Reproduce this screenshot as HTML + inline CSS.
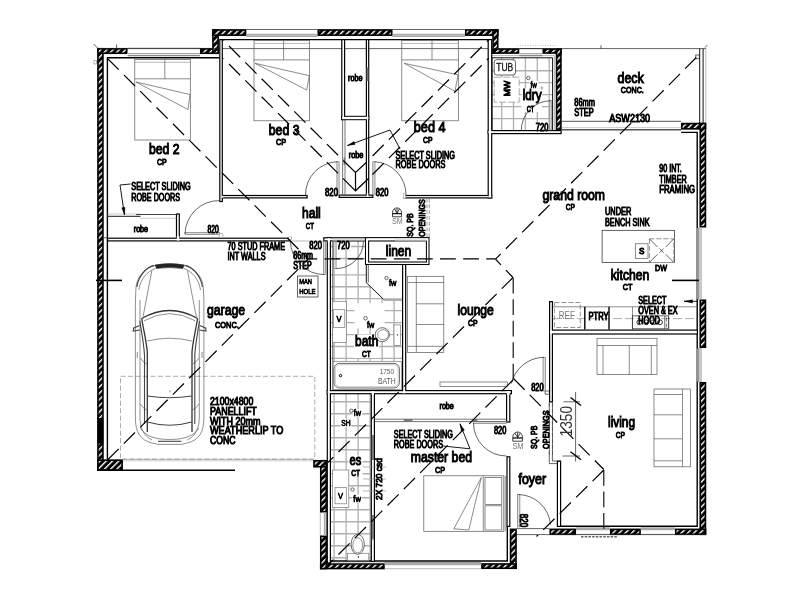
<!DOCTYPE html>
<html lang="en"><head><meta charset="utf-8"><title>Floor plan</title>
<style>
html,body{margin:0;padding:0;background:#fff}
svg{display:block;filter:grayscale(1)}
text{font-family:"Liberation Sans",sans-serif;fill:#000}
.k{stroke:#222;stroke-width:.7;fill:none}
.kw{stroke:#222;stroke-width:.7;fill:#fff}
.K{stroke:#000;stroke-width:1.4;fill:none}
.Kw{stroke:#000;stroke-width:1.05;fill:#fff}
.kf{fill:#000;stroke:#000;stroke-width:.4}
.kd{stroke:#333;stroke-width:.6;fill:none;stroke-dasharray:4 2}
.g{stroke:#5a5a5a;stroke-width:.7;fill:none}
.g2{stroke:#888;stroke-width:.6;fill:none}
.g3{stroke:#aaa;stroke-width:.6;fill:none}
.g2w{stroke:#888;stroke-width:.6;fill:#fff}
.gw{stroke:#999;stroke-width:1.6;fill:none}
.gw2{stroke:#777;stroke-width:.7;fill:#fff}
.gw3{stroke:#aaa;stroke-width:2.5;fill:none}
.gf{fill:#777;stroke:none}
.gd{stroke:#888;stroke-width:.7;fill:none;stroke-dasharray:5 2.5}
.gd3{stroke:#888;stroke-width:.7;fill:none;stroke-dasharray:9 3}
.gd4{stroke:#888;stroke-width:.9;fill:none;stroke-dasharray:5 2}
.gd4w{stroke:#888;stroke-width:.9;fill:#fff;stroke-dasharray:5 2}
.gd2{stroke:#888;stroke-width:.7;fill:#fff;stroke-dasharray:7 2}
.gdd{stroke:#777;stroke-width:.7;fill:none;stroke-dasharray:4 1.8}
.gdot{stroke:#aaa;stroke-width:.7;fill:none;stroke-dasharray:1 1.5}
.h{fill:url(#hp);stroke:#000;stroke-width:1.6}
.lg{fill:#ddd}
.wb{fill:#000}
.ww{fill:#fff}
.d{stroke:#000;stroke-width:1.2;fill:none;stroke-dasharray:15.8 7.3}
.ld{stroke:#000;stroke-width:.9;fill:none}
.dh{stroke:#000;stroke-width:1.1;fill:none;stroke-dasharray:15.8 5.7}
.ds{stroke:#000;stroke-width:1.2;fill:none}
.dl{stroke:#666;stroke-width:.6;fill:#ddd}
.dr{stroke:#333;stroke-width:.75;fill:none}
.sm{stroke:#111;stroke-width:.8;fill:none}
.sm2{stroke:#111;stroke-width:1.3;fill:none}
.sd1{stroke:#777;stroke-width:1.3;fill:none}
.sd2{stroke:#555;stroke-width:1.5;fill:none}
.k1{stroke:#111;stroke-width:1;fill:none}
.wl{stroke:#aaa;stroke-width:1.3;fill:none}
.wg1{stroke:#aaa;stroke-width:1.3;fill:none}
.wg2{stroke:#888;stroke-width:1.3;fill:none}
.smudge{stroke:#666;stroke-width:1.4;fill:none;stroke-dasharray:2.5 1.2}
.bn{stroke:#222;stroke-width:.9;fill:none}
.sl{stroke:#444;stroke-width:1.2;fill:none}
.sl2{stroke:#666;stroke-width:.9;fill:none}
.KK{stroke:#000;stroke-width:1.6;fill:none}
.tub{stroke:#555;stroke-width:.9;fill:#fff}
.K1{stroke:#000;stroke-width:1;fill:none}
.tw{stroke:#444;stroke-width:.8;fill:#fff}
.tw2{stroke:#666;stroke-width:.7;fill:none}
.gwl{stroke:#aaa;stroke-width:1.8;fill:none}
.tile{stroke:#b0b0b0;stroke-width:1.3;fill:none}
.c{stroke:#444;stroke-width:.6;fill:none}
.c2{stroke:#444;stroke-width:1.1;fill:none}
.c3{stroke:#333;stroke-width:1.3;fill:none}
.cf{fill:#222;stroke:#222;stroke-width:.5}
.tr{stroke:#000;stroke-width:1.1}
.tn{stroke:#000;stroke-width:1}
.tl{fill:#111;stroke:#111;stroke-width:.35}
.tl2{fill:#000;stroke:#000;stroke-width:.7}
.fwc{stroke:#555;stroke-width:.9;fill:#fff}
.tg{fill:#777}
.tg2{fill:#555}
.tcad{fill:#333}
</style></head>
<body>
<svg width="800" height="600" viewBox="0 0 800 600">
<defs>
<pattern id="hp" width="4.4" height="4.4" patternUnits="userSpaceOnUse" patternTransform="rotate(-45)">
<rect width="4.4" height="4.4" fill="#000"/><rect y="0" width="4.4" height="1.4" fill="#fff"/>
</pattern>
</defs>
<rect width="800" height="600" fill="#fff"/>
<path class="tile" d="M501.7 57.5V130M513.5 57.5V130M525.4 57.5V130M537.3 57.5V130M549.2 57.5V130M492 70.75H552.5M492 82.7H552.5M492 94.65H552.5M492 106.6H552.5M492 118.55H552.5"/>
<path class="tile" d="M334.1 241V361M346.1 241V361M358.1 241V361M370.1 241V361M382.1 241V361M394.1 241V361M330 246.5H402.5M330 258.5H402.5M330 274.8H402.5M330 286.75H402.5M330 298.7H402.5M330 310.65H402.5M330 322.6H402.5M330 334.55H402.5M330 346.5H402.5M330 358.45H402.5"/>
<path class="tile" d="M334.1 394V562M346.1 394V562M358.1 394V562M370.1 394V562M330.5 401.75H371M330.5 413.75H371M330.5 425.75H371M330.5 437.75H371M330.5 449.75H371M330.5 461.75H371M330.5 473.75H371M330.5 485.75H371M330.5 497.75H371M330.5 509.75H371M330.5 521.75H371M330.5 533.75H371M330.5 545.75H371M330.5 557.75H371"/>
<rect class="ww" x="521.5" y="88.5" width="20.5" height="23.5"/>
<rect class="ww" x="529.5" y="81" width="8.5" height="7.5"/>
<rect class="ww" x="534.5" y="122.5" width="14.5" height="7.5"/>
<rect class="ww" x="526" y="75.5" width="5" height="5"/>
<rect class="ww" x="354" y="334.5" width="25" height="23.5"/>
<rect class="ww" x="354.5" y="303" width="30" height="25.5"/>
<rect class="ww" x="388" y="278" width="9" height="8.5"/>
<rect class="ww" x="384" y="275.5" width="5" height="5"/>
<rect class="ww" x="348.5" y="455.5" width="14" height="21"/>
<rect class="ww" x="340.5" y="419" width="11" height="8.2"/>
<rect class="ww" x="352.5" y="409" width="9.5" height="8"/>
<rect class="ww" x="352.5" y="494.5" width="9.5" height="8.5"/>
<rect class="ww" x="350" y="487.5" width="5" height="4.5"/>
<rect class="ww" x="336" y="241.8" width="15" height="8"/>
<path class="ww" d="M366.3 263 L402.5 263 L402.5 299.5 L383.7 299.5 L366.3 282.4 Z"/>
<rect class="h" x="97.95" y="48.75" width="5" height="421.3"/>
<rect class="wb" x="97.6" y="418" width="5.7" height="25.5"/>
<rect class="h" x="97.95" y="48.75" width="28.8" height="4.5"/>
<rect class="h" x="200.75" y="48.75" width="17.4" height="4.5"/>
<rect class="h" x="212.95" y="29.95" width="5.2" height="23.3"/>
<rect class="h" x="212.95" y="29.95" width="32.6" height="5.2"/>
<rect class="h" x="318.25" y="29.95" width="73.5" height="5.2"/>
<rect class="h" x="465.75" y="29.95" width="32" height="5.2"/>
<rect class="h" x="493.05" y="29.95" width="4.7" height="23.1"/>
<rect class="h" x="493.05" y="49.05" width="25.4" height="4"/>
<rect class="h" x="543.25" y="49.05" width="17.7" height="4"/>
<rect class="h" x="556.55" y="49.05" width="4.4" height="80.2"/>
<rect class="h" x="681.75" y="123.55" width="23.7" height="5.3"/>
<rect class="h" x="700.25" y="123.55" width="5.2" height="103.2"/>
<rect class="h" x="700.25" y="300.25" width="5.2" height="47"/>
<rect class="h" x="700.25" y="382.75" width="5.2" height="151.5"/>
<rect class="h" x="550.25" y="529.35" width="25" height="4.9"/>
<rect class="h" x="610.75" y="529.35" width="29.3" height="4.9"/>
<rect class="h" x="675.75" y="529.35" width="29.8" height="4.9"/>
<rect class="h" x="510.55" y="529.35" width="5.5" height="38.9"/>
<rect class="h" x="481.95" y="563.95" width="34.1" height="4.3"/>
<rect class="h" x="320.75" y="563.95" width="63.2" height="4.6"/>
<rect class="h" x="320.75" y="460.75" width="5.5" height="51"/>
<rect class="h" x="320.75" y="536.25" width="5.5" height="32.3"/>
<rect class="h" x="313.95" y="460.75" width="12.3" height="6"/>
<rect class="h" x="97.95" y="460.15" width="24.2" height="9.9"/>
<line class="k" x1="97" y1="48.6" x2="706" y2="48.6"/>
<line class="k" x1="127.5" y1="48.3" x2="200" y2="48.3"/>
<line class="wg1" x1="127.5" y1="53.6" x2="200" y2="53.6"/>
<line class="wg2" x1="127.5" y1="55.6" x2="200" y2="55.6"/>
<line class="k" x1="246.3" y1="29.5" x2="317.5" y2="29.5"/>
<line class="wg1" x1="246.3" y1="34.3" x2="317.5" y2="34.3"/>
<line class="wg2" x1="246.3" y1="36.2" x2="317.5" y2="36.2"/>
<line class="k" x1="392.5" y1="29.5" x2="465" y2="29.5"/>
<line class="wg1" x1="392.5" y1="34.3" x2="465" y2="34.3"/>
<line class="wg2" x1="392.5" y1="36.2" x2="465" y2="36.2"/>
<line class="k" x1="519.2" y1="48.6" x2="542.5" y2="48.6"/>
<line class="wg1" x1="519.2" y1="53.6" x2="542.5" y2="53.6"/>
<line class="wg2" x1="519.2" y1="55.6" x2="542.5" y2="55.6"/>
<line class="wg1" x1="701" y1="227.5" x2="701" y2="299.5"/>
<line class="wg2" x1="698.8" y1="227.5" x2="698.8" y2="299.5"/>
<line class="wg1" x1="701" y1="348" x2="701" y2="382"/>
<line class="wg2" x1="698.8" y1="348" x2="698.8" y2="382"/>
<line class="g2" x1="576" y1="534.3" x2="610" y2="534.3"/>
<line class="wg1" x1="576" y1="529.6" x2="610" y2="529.6"/>
<line class="wg2" x1="576" y1="528.1" x2="610" y2="528.1"/>
<line class="g2" x1="640.8" y1="534.3" x2="675" y2="534.3"/>
<line class="wg1" x1="640.8" y1="529.6" x2="675" y2="529.6"/>
<line class="wg2" x1="640.8" y1="528.1" x2="675" y2="528.1"/>
<line class="g2" x1="384.7" y1="568.7" x2="481.2" y2="568.7"/>
<line class="wg1" x1="384.7" y1="564.5" x2="481.2" y2="564.5"/>
<line class="wg2" x1="384.7" y1="562.8" x2="481.2" y2="562.8"/>
<line class="g2" x1="320.3" y1="512" x2="320.3" y2="536"/>
<line class="wg1" x1="324.5" y1="512" x2="324.5" y2="536"/>
<line class="wg2" x1="326.3" y1="512" x2="326.3" y2="536"/>
<line class="smudge" x1="581" y1="536.8" x2="618" y2="536.8"/>
<path class="K" d="M107.4 459.6 L107.4 57.8 L219.6 57.8"/>
<line class="K" x1="222" y1="39.6" x2="489" y2="39.6"/>
<path class="k1" d="M492 130.5 L492 57.8 L552.6 57.8 L552.6 130.5"/>
<path class="g2" d="M491 55.6 L554.4 55.6 L554.4 130"/>
<path class="K" d="M681.2 132.4 L697.2 132.4 L697.2 526.3 L561 526.3"/>
<line class="wl" x1="697.2" y1="228" x2="697.2" y2="299"/>
<line class="wl" x1="697.2" y1="348.5" x2="697.2" y2="381.5"/>
<path class="K" d="M507.3 526.3 L507.3 561 L330.4 561"/>
<line class="g2" x1="327.3" y1="563" x2="481" y2="563"/>
<line class="k" x1="104" y1="237.8" x2="107" y2="237.8"/>
<rect class="wb" x="219.2" y="39" width="3.7" height="163.1"/>
<rect class="wb" x="221" y="194.9" width="86.7" height="3.6"/>
<rect class="wb" x="341.2" y="39" width="4" height="81.2"/>
<rect class="wb" x="365.8" y="39" width="3.5" height="159"/>
<rect class="wb" x="341.2" y="115.8" width="28.1" height="4.4"/>
<rect class="wb" x="338.6" y="194.5" width="34.8" height="3.5"/>
<rect class="wb" x="404" y="194.9" width="88.3" height="3.6"/>
<rect class="wb" x="487.6" y="39" width="4.7" height="159.5"/>
<rect class="wb" x="487.6" y="130" width="74.1" height="4.2"/>
<rect class="wb" x="175.9" y="213.4" width="4" height="27.6"/>
<rect class="wb" x="107" y="237.6" width="183.3" height="3.9"/>
<rect class="wb" x="326.7" y="237.2" width="4.3" height="326.3"/>
<rect class="wb" x="323.2" y="237.2" width="42.8" height="4.3"/>
<rect class="wb" x="402" y="263" width="4.3" height="131"/>
<rect class="wb" x="326.7" y="390" width="185.3" height="4.3"/>
<rect class="wb" x="370.7" y="392" width="4.3" height="170"/>
<rect class="wb" x="506" y="392" width="4.4" height="30.6"/>
<rect class="wb" x="506.4" y="456.2" width="4" height="70.8"/>
<rect class="wb" x="549" y="329.5" width="149" height="5.1"/>
<rect class="wb" x="549" y="301" width="4" height="101.5"/>
<rect class="wb" x="556.8" y="460.6" width="4.4" height="66.4"/>
<rect class="ww" x="220.4" y="40.2" width="1.3" height="160.7"/>
<rect class="ww" x="222.2" y="196.1" width="84.3" height="1.2"/>
<rect class="ww" x="342.4" y="40.2" width="1.6" height="78.8"/>
<rect class="ww" x="367" y="40.2" width="1.1" height="156.6"/>
<rect class="ww" x="342.4" y="117" width="25.7" height="2"/>
<rect class="ww" x="339.8" y="195.7" width="32.4" height="1.1"/>
<rect class="ww" x="405.2" y="196.1" width="85.9" height="1.2"/>
<rect class="ww" x="488.8" y="40.2" width="2.3" height="157.1"/>
<rect class="ww" x="488.8" y="131.2" width="71.7" height="1.8"/>
<rect class="ww" x="177.1" y="214.6" width="1.6" height="25.2"/>
<rect class="ww" x="108.2" y="238.8" width="180.9" height="1.5"/>
<rect class="ww" x="327.9" y="238.4" width="1.9" height="323.9"/>
<rect class="ww" x="324.4" y="238.4" width="40.4" height="1.9"/>
<rect class="ww" x="403.2" y="264.2" width="1.9" height="128.6"/>
<rect class="ww" x="327.9" y="391.2" width="182.9" height="1.9"/>
<rect class="ww" x="371.9" y="393.2" width="1.9" height="167.6"/>
<rect class="ww" x="507.2" y="393.2" width="2" height="28.2"/>
<rect class="ww" x="507.6" y="457.4" width="1.6" height="68.4"/>
<rect class="ww" x="550.2" y="330.7" width="146.6" height="2.7"/>
<rect class="ww" x="550.2" y="302.2" width="1.6" height="99.1"/>
<rect class="ww" x="558" y="461.8" width="2" height="64"/>
<rect class="ww" x="221.5" y="195.9" width="2" height="1.6"/>
<rect class="ww" x="342.2" y="116.8" width="26.1" height="2.4"/>
<rect class="ww" x="366.8" y="193" width="1.5" height="4"/>
<rect class="ww" x="490.5" y="195.9" width="0.8" height="1.6"/>
<rect class="ww" x="488.6" y="131" width="2.7" height="2.2"/>
<rect class="ww" x="176.8" y="236" width="2.6" height="4.5"/>
<rect class="ww" x="327.8" y="238.4" width="2.1" height="3.6"/>
<rect class="lg" x="332.5" y="238.6" width="32.5" height="1.9"/>
<line class="k" x1="332.75" y1="241.5" x2="332.75" y2="390"/>
<line class="g2" x1="290.3" y1="241" x2="324" y2="241"/>
<rect class="ww" x="327.8" y="391" width="2.1" height="2.3"/>
<rect class="ww" x="402.9" y="391" width="2.4" height="2.3"/>
<rect class="ww" x="371.7" y="391" width="2.3" height="4"/>
<rect class="ww" x="506.8" y="391" width="2.7" height="4"/>
<rect class="ww" x="550" y="330.5" width="2" height="3.1"/>
<path class="k" d="M549.3 402.5 L549.3 463.6 L557.3 463.6"/>
<path class="k" d="M552.4 402.5 L552.4 461 L560.8 461"/>
<rect class="ww" x="549.9" y="403" width="2" height="52.5"/>
<line class="kd" x1="549.3" y1="403" x2="549.3" y2="456"/>
<line class="kd" x1="552.4" y1="403" x2="552.4" y2="456"/>
<line class="gdd" x1="427" y1="198.5" x2="427" y2="237.5"/>
<line class="gdd" x1="429.3" y1="198.5" x2="429.3" y2="237.5"/>
<rect class="Kw" x="365.5" y="237.6" width="63.5" height="26.9"/>
<rect class="Kw" x="368.6" y="241" width="57.8" height="21"/>
<line class="gwl" x1="395" y1="240.6" x2="426.4" y2="240.6"/>
<path class="k" d="M545.2 391 L549.3 391"/>
<path class="k" d="M545.2 394.2 L549.3 394.2"/>
<line class="k" x1="545.2" y1="391" x2="545.2" y2="394.2"/>
<rect class="dl" x="185" y="232.6" width="34.3" height="2"/>
<path class="dr" d="M185 234A34 34 0 0 1 219.3 200.6"/>
<rect class="g2w" x="219.2" y="233.8" width="3.7" height="3.8"/>
<rect class="dl" x="336.9" y="161.7" width="2.2" height="33.3"/>
<path class="dr" d="M337.5 161.7A33 33 0 0 0 305.5 195"/>
<rect class="dl" x="372.8" y="161.7" width="2.2" height="33.3"/>
<path class="dr" d="M374.5 161.7A33 33 0 0 1 406 195"/>
<rect class="g2w" x="403.6" y="193.8" width="2" height="4.7"/>
<rect class="dl" x="323.4" y="241.6" width="2.2" height="32.9"/>
<path class="dr" d="M324.5 274.6A34 34 0 0 1 290.4 240.8"/>
<rect class="g2w" x="288.8" y="236.9" width="2.5" height="2.4"/>
<rect class="dl" x="333.7" y="241.8" width="2.4" height="26.7"/>
<path class="dr" d="M335.8 268.6A27.5 27.5 0 0 0 363.5 241.8"/>
<rect class="dl" x="549.2" y="100.5" width="2" height="29.5"/>
<path class="dr" d="M521.3 130.3A29.5 29.5 0 0 1 550.5 100.8"/>
<rect class="dl" x="543" y="357.3" width="2.3" height="33.7"/>
<path class="dr" d="M544 357.3A34 34 0 0 0 511.4 383.5"/>
<rect class="dl" x="473.5" y="421.3" width="32.8" height="2"/>
<path class="dr" d="M473.5 423A33 33 0 0 0 506.5 456"/>
<rect class="dl" x="517.5" y="494.5" width="2.4" height="32.5"/>
<path class="dr" d="M519 494.5A33 33 0 0 1 550.5 524.5"/>
<line class="k" x1="516.8" y1="528.6" x2="549.5" y2="528.6"/>
<line class="k" x1="516.5" y1="534.6" x2="706" y2="534.6"/>
<line class="g3" x1="107.4" y1="214" x2="140.5" y2="214"/>
<line class="sl" x1="107.4" y1="216.3" x2="140.5" y2="216.3"/>
<line class="sl" x1="136" y1="214.5" x2="176.5" y2="214.5"/>
<line class="g3" x1="140" y1="218.3" x2="176.5" y2="218.3"/>
<line class="sl2" x1="342.6" y1="120" x2="342.6" y2="195"/>
<line class="sl2" x1="345" y1="120" x2="345" y2="195"/>
<rect class="gf" x="343.6" y="157.5" width="1.6" height="7.5"/>
<rect class="gf" x="366.6" y="67.5" width="1.8" height="13.5"/>
<line class="sl2" x1="375" y1="419.2" x2="506" y2="419.2"/>
<line class="sl2" x1="375" y1="421.6" x2="506" y2="421.6"/>
<rect class="gf" x="403.7" y="419" width="8.8" height="2.6"/>
<rect class="gf" x="472.5" y="419" width="5" height="2.6"/>
<rect class="gf" x="371.8" y="435" width="2.2" height="25"/>
<rect class="gf" x="371.8" y="515" width="2.2" height="24.5"/>
<line class="g2" x1="363" y1="467" x2="386" y2="467"/>
<line class="g2" x1="363" y1="479" x2="386" y2="479"/>
<line class="g2" x1="363" y1="491" x2="386" y2="491"/>
<line class="sd1" x1="561.7" y1="121.3" x2="681.2" y2="121.3"/>
<line class="sd2" x1="561.7" y1="129.7" x2="681.2" y2="129.7"/>
<line class="g3" x1="561.7" y1="127.6" x2="681.2" y2="127.6"/>
<line class="k1" x1="699.7" y1="48.6" x2="699.7" y2="123"/>
<line class="k1" x1="703.1" y1="48.6" x2="703.1" y2="123"/>
<line class="g2" x1="705.8" y1="48.6" x2="705.8" y2="123"/>
<rect class="k" x="695.8" y="55" width="3.5" height="3.8"/>
<line class="k" x1="705" y1="47.6" x2="707.3" y2="45"/>
<line class="k" x1="601" y1="45.3" x2="601" y2="48.6"/>
<line class="gdot" x1="517.5" y1="45.5" x2="556.7" y2="45.5"/>
<line class="KK" x1="96" y1="280.4" x2="122" y2="280.4"/>
<line class="KK" x1="672" y1="280.4" x2="699" y2="280.4"/>
<line class="k" x1="93.7" y1="44" x2="97.5" y2="48"/>
<line class="k" x1="116.6" y1="44.5" x2="116.6" y2="48"/>
<rect class="g2" x="94" y="60.3" width="2.5" height="3.7"/>
<rect class="g" x="134.8" y="59.5" width="55.5" height="80.5"/>
<line class="g2" x1="134.8" y1="62.3" x2="190.3" y2="62.3"/>
<line class="g" x1="134.8" y1="78.8" x2="190.3" y2="78.8"/>
<line class="g" x1="164.8" y1="59.5" x2="164.8" y2="78.8"/>
<path class="g" d="M136 82 L190 94.5 L188 109.5 Z"/>
<rect class="g" x="254" y="40.6" width="55.5" height="80.2"/>
<line class="g2" x1="254" y1="43.4" x2="309.5" y2="43.4"/>
<line class="g" x1="254" y1="59.9" x2="309.5" y2="59.9"/>
<line class="g" x1="283.6" y1="40.6" x2="283.6" y2="59.9"/>
<path class="g" d="M255 63.3 L309.3 75.7 L306.7 90 Z"/>
<rect class="g" x="401.8" y="40.6" width="56.5" height="80.2"/>
<line class="g2" x1="401.8" y1="43.4" x2="458.3" y2="43.4"/>
<line class="g" x1="401.8" y1="59.9" x2="458.3" y2="59.9"/>
<line class="g" x1="432" y1="40.6" x2="432" y2="59.9"/>
<path class="g" d="M404.2 63.3 L458 74.8 L455 91.3 Z"/>
<rect class="g" x="423.8" y="475.8" width="80" height="55.5"/>
<line class="g" x1="505.2" y1="475.8" x2="505.2" y2="531.3"/>
<rect class="g" x="485" y="477.5" width="16.8" height="27"/>
<rect class="g" x="485" y="505.8" width="16.8" height="24.2"/>
<line class="g" x1="483.3" y1="475.8" x2="483.3" y2="531.3"/>
<path class="g" d="M481.3 477.5 L453.8 528.8 L468.8 530 Z"/>
<rect class="g" x="407.5" y="276.3" width="36.3" height="76.2"/>
<line class="g" x1="416.3" y1="276.3" x2="416.3" y2="352.5"/>
<line class="g" x1="407.5" y1="282.5" x2="443.8" y2="282.5"/>
<line class="g" x1="416.3" y1="303.8" x2="443.8" y2="303.8"/>
<line class="g" x1="416.3" y1="324.5" x2="443.8" y2="324.5"/>
<line class="g" x1="407.5" y1="346.3" x2="443.8" y2="346.3"/>
<rect class="g" x="597" y="338.3" width="60" height="36.2"/>
<line class="g" x1="597" y1="345.5" x2="657" y2="345.5"/>
<line class="g" x1="603" y1="345.5" x2="603" y2="374.5"/>
<line class="g" x1="651.3" y1="345.5" x2="651.3" y2="374.5"/>
<line class="g" x1="629.3" y1="345.5" x2="629.3" y2="374.5"/>
<rect class="g" x="654" y="389" width="36.5" height="77.8"/>
<line class="g" x1="682.5" y1="389" x2="682.5" y2="466.8"/>
<line class="g" x1="654" y1="394.5" x2="682.5" y2="394.5"/>
<line class="g" x1="654" y1="460.8" x2="682.5" y2="460.8"/>
<line class="g" x1="654" y1="414.8" x2="682.5" y2="414.8"/>
<line class="g" x1="654" y1="438.8" x2="682.5" y2="438.8"/>
<rect class="g" x="440" y="382" width="67.3" height="4.6"/>
<rect class="k" x="602.1" y="230.3" width="72.3" height="32.2"/>
<rect class="g" x="635.3" y="243.8" width="12.7" height="14.7"/>
<rect class="gd4w" x="649.4" y="238.8" width="24.4" height="23.7"/>
<line class="k" x1="649.6" y1="239" x2="657.5" y2="247"/>
<line class="k" x1="673.6" y1="239" x2="665.7" y2="247"/>
<line class="k" x1="649.6" y1="262.3" x2="657.5" y2="254.3"/>
<line class="k" x1="673.6" y1="262.3" x2="665.7" y2="254.3"/>
<line class="k" x1="659.5" y1="248.5" x2="663.7" y2="252.7"/>
<line class="k" x1="659.5" y1="252.7" x2="663.7" y2="248.5"/>
<line class="g" x1="553" y1="306.8" x2="697" y2="306.8"/>
<line class="gd3" x1="553" y1="318.6" x2="697" y2="318.6"/>
<line class="K" x1="584.8" y1="306.8" x2="584.8" y2="329.5"/>
<line class="K" x1="609" y1="306.8" x2="609" y2="329.5"/>
<line class="g" x1="632.5" y1="306.8" x2="632.5" y2="329.5"/>
<line class="g" x1="668.8" y1="306.8" x2="668.8" y2="329.5"/>
<rect class="gd4" x="554.4" y="302.5" width="25.9" height="25"/>
<rect class="k" x="632.3" y="315.9" width="36" height="12.9"/>
<circle class="bn" cx="639.3" cy="322.3" r="2.4"/>
<circle class="bn" cx="646.3" cy="322.3" r="2.4"/>
<circle class="bn" cx="653.2" cy="322.3" r="2.4"/>
<circle class="bn" cx="660" cy="322.3" r="2.4"/>
<line class="k" x1="664.8" y1="316" x2="664.8" y2="328.8"/>
<line class="kd" x1="666.5" y1="317.5" x2="666.5" y2="327.5"/>
<line class="ld" x1="684" y1="301.3" x2="697.2" y2="301.3"/>
<path class="kf" d="M684 301.3 L692.5 299.7 L692.5 302.9 Z"/>
<rect class="kw" x="494.2" y="59.7" width="21.3" height="15.3" rx="2.5"/>
<rect class="gd2" x="494.2" y="77.2" width="25" height="25"/>
<circle class="fwc" cx="528.3" cy="78" r="1.7"/>
<line class="g2" x1="539.7" y1="88" x2="543.7" y2="88"/>
<line class="g2" x1="541.7" y1="86" x2="541.7" y2="90"/>
<rect class="gw2" x="332.75" y="301.3" width="13.55" height="41.2"/>
<rect class="gw2" x="333.4" y="309.7" width="11.4" height="17.9"/>
<circle class="fwc" cx="365.5" cy="318.2" r="1.8"/>
<circle class="fwc" cx="386.5" cy="278" r="1.7"/>
<path class="k1" d="M366.3 264.5 L366.3 282.6 L383.8 299.6"/>
<path class="k" d="M368.3 264.5 L368.3 282.4"/>
<line class="gw3" x1="383.8" y1="299.6" x2="402" y2="299.6"/>
<rect class="gw2" x="394" y="324.9" width="6.6" height="20.6"/>
<ellipse class="tw" cx="382.3" cy="334.7" rx="7.1" ry="7"/>
<ellipse class="tw2" cx="383.1" cy="334.7" rx="5.4" ry="5"/>
<circle class="kf" cx="397.4" cy="335" r="0.4"/>
<rect class="gw2" x="333.2" y="361.3" width="68.1" height="28.2"/>
<rect class="tub" x="334" y="363.4" width="65.4" height="24.6" rx="5.5"/>
<rect class="g3" x="335.3" y="364.7" width="62.8" height="22" rx="4.5"/>
<circle class="K1" cx="340.5" cy="375.6" r="1.2"/>
<circle class="fwc" cx="351.3" cy="410.8" r="1.7"/>
<circle class="fwc" cx="352.5" cy="489.5" r="1.7"/>
<rect class="gw2" x="332.5" y="470" width="16.3" height="37.5"/>
<rect class="gw2" x="335" y="487.5" width="11.3" height="16.3"/>
<rect class="gw2" x="347.5" y="553.3" width="21.3" height="7"/>
<ellipse class="tw" cx="357.7" cy="544.3" rx="6.6" ry="10"/>
<ellipse class="tw2" cx="357.7" cy="545.3" rx="4.9" ry="7.6"/>
<circle class="kf" cx="358.5" cy="557" r="0.5"/>
<path class="sm" d="M392.5 212.4A4.5 4.5 0 0 1 401.5 212.4V216.8H392.5Z"/>
<line class="sm2" x1="392.5" y1="213.6" x2="401.5" y2="213.6"/>
<line class="sm" x1="397" y1="213.2" x2="394.63" y2="209.01"/>
<line class="sm" x1="397" y1="213.2" x2="397" y2="208.26"/>
<line class="sm" x1="397" y1="213.2" x2="399.37" y2="209.01"/>
<path class="sm" d="M512.8 436.8A4.8 4.8 0 0 1 522.4 436.8V441.2H512.8Z"/>
<line class="sm2" x1="512.8" y1="438" x2="522.4" y2="438"/>
<line class="sm" x1="517.6" y1="437.6" x2="515.07" y2="433.18"/>
<line class="sm" x1="517.6" y1="437.6" x2="517.6" y2="432.38"/>
<line class="sm" x1="517.6" y1="437.6" x2="520.13" y2="433.18"/>
<rect class="k" x="297.5" y="276" width="20.5" height="21"/>
<rect class="gd" x="120.5" y="376.3" width="194.3" height="82.9"/>
<line class="g2" x1="122.9" y1="459.2" x2="313.2" y2="459.2"/>
<line class="g3" x1="122.9" y1="460.8" x2="313.2" y2="460.8"/>
<line class="K" x1="97.2" y1="470.3" x2="235" y2="470.3"/>
<line class="k" x1="575.6" y1="392" x2="575.6" y2="461.5"/>
<line class="k" x1="563.5" y1="401.8" x2="580" y2="401.8"/>
<line class="k" x1="562.5" y1="456" x2="580" y2="456"/>
<line class="K" x1="570.5" y1="397.5" x2="581" y2="405.5"/>
<line class="K" x1="570.5" y1="451.8" x2="581" y2="459.8"/>
<path class="c" d="M169.65 263.6 C150 263.6 137.5 272 136 287.5 L135.4 300 L135.4 418 C135.4 432 140 440 152 443 L158 444.4 L169.65 444.4"/>
<path class="c" d="M 169.65 263.6 C 189.3 263.6 201.8 272 203.3 287.5 L 203.9 300 L 203.9 418 C 203.9 432 199.3 440 187.3 443 L 181.3 444.4 L 169.65 444.4"/>
<path class="cf" d="M155 264.90000000000003 Q169.65 262.40000000000003 184.3 264.90000000000003 L182.8 268.6 Q169.65 266.6 156.5 268.6 Z"/>
<path class="c" d="M155.5 268.6 C147.5 271 140.3 279 138.8 290"/>
<path class="c" d="M 183.8 268.6 C 191.8 271 199 279 200.5 290"/>
<path class="c2" d="M154 265.40000000000003 C146 267.5 138.5 276 136.8 287"/>
<path class="c2" d="M 185.3 265.4 C 193.3 267.5 200.8 276 202.5 287"/>
<path class="c" d="M151.9 270.5 L143 316.8"/>
<path class="c" d="M 187.4 270.5 L 196.3 316.8"/>
<path class="c3" d="M141.7 318.5 Q169.65 302.5 197.6 318.5"/>
<path class="c" d="M144 320.8 Q169.65 306.5 195.3 320.8"/>
<path class="c3" d="M141.7 318.5 C143.5 330 146.3 340 147.3 352 L147.3 432"/>
<path class="c3" d="M 197.6 318.5 C 195.8 330 193 340 192 352 L 192 432"/>
<path class="c2" d="M139.8 321 C141.5 332 143.8 343 144.5 355 L144.5 424"/>
<path class="c2" d="M 199.5 321 C 197.8 332 195.5 343 194.8 355 L 194.8 424"/>
<path class="c" d="M147.3 341 Q169.65 335.5 192 341"/>
<path class="c" d="M140 300 L140 418 C140.3 429 144 436 152 440"/>
<path class="c" d="M 199.3 300 L 199.3 418 C 199 429 195.3 436 187.3 440"/>
<path class="c2" d="M139.5 325.5 L133.5 328.2 L133.3 331 L139.8 330"/>
<path class="c2" d="M 199.8 325.5 L 205.8 328.2 L 206 331 L 199.5 330"/>
<path class="c" d="M140.5 358 Q143 362.5 146.8 364"/>
<path class="c" d="M 198.8 358 Q 196.3 362.5 192.5 364"/>
<path class="c" d="M137.3 352 L137.3 358"/>
<path class="c" d="M 202 352 L 202 358"/>
<path class="c" d="M140.5 404 Q143 408.5 146.8 410"/>
<path class="c" d="M 198.8 404 Q 196.3 408.5 192.5 410"/>
<path class="c2" d="M147.5 396 Q169.65 399.5 191.8 396"/>
<path class="c2" d="M147.5 422 Q169.65 428.5 191.8 422"/>
<path class="c" d="M140.5 428 C145 436 155 439.5 169.65 439.5 C184.3 439.5 194.3 436 198.8 428"/>
<path class="c2" d="M158 441.3 L181.3 441.3"/>
<line class="c" x1="170" y1="390" x2="170" y2="392.5"/>
<path class="d" d="M107.5 58.5 L308.3 259" stroke-dashoffset="0"/>
<path class="d" d="M107.5 460 L308.3 259" stroke-dashoffset="0"/>
<path class="d" d="M308.3 258.9 L495.5 258.9" stroke-dashoffset="6.85"/>
<path class="d" d="M696.3 57.5 L495.5 259.2" stroke-dashoffset="0"/>
<path class="d" d="M495.5 259.2 L513 277.5" stroke-dashoffset="8"/>
<path class="dh" d="M513.2 277.8 L513.2 380" stroke-dashoffset="0"/>
<path class="d" d="M513 277.5 L328 462.5" stroke-dashoffset="0"/>
<path class="d" d="M513 380 L328 565" stroke-dashoffset="0"/>
<path class="d" d="M513.5 378.5 L603.8 469.5" stroke-dashoffset="0"/>
<path class="dh" d="M603.8 470 L603.8 532.5" stroke-dashoffset="0"/>
<path class="d" d="M603.8 470 L536.5 536.5" stroke-dashoffset="0"/>
<path class="d" d="M223.5 40.5 L345.3 162.5" stroke-dashoffset="15.3"/>
<path class="ds" d="M345.3 162.5 L355.5 172.5 L366.3 162.5"/>
<path class="d" d="M223.5 58.5 L343 178.3" stroke-dashoffset="15.3"/>
<path class="ds" d="M343 178.3 L355.5 190.8 L368.8 178.3"/>
<line class="ds" x1="355.5" y1="172.5" x2="355.5" y2="190.8"/>
<path class="d" d="M488.5 40 L368.8 159.7" stroke-dashoffset="13.5"/>
<path class="d" d="M488.5 58.5 L369.3 177.7" stroke-dashoffset="13.5"/>
<path class="ld" d="M130.5 184 L120 185 L124.5 215"/>
<path class="kf" d="M124.5 215 L121.81 207.82 L124.97 207.35 Z"/>
<path class="ld" d="M400 149 L390 130 L347.5 145.5"/>
<path class="kf" d="M347.5 145.5 L354 141.43 L355.09 144.44 Z"/>
<path class="ld" d="M443 446 L470 448.8 L460 423.8"/>
<path class="kf" d="M460 423.8 L464.29 430.15 L461.33 431.35 Z"/>
<text class="tr" x="149" y="154.4" font-size="15.4" textLength="30.4" lengthAdjust="spacingAndGlyphs">bed 2</text>
<text class="tn" x="156.9" y="165.4" font-size="9.9" textLength="9.7" lengthAdjust="spacingAndGlyphs">CP</text>
<text class="tr" x="268.8" y="134.5" font-size="15.4" textLength="30.7" lengthAdjust="spacingAndGlyphs">bed 3</text>
<text class="tn" x="276" y="144.5" font-size="9.9" textLength="10" lengthAdjust="spacingAndGlyphs">CP</text>
<text class="tr" x="413.8" y="132" font-size="15.4" textLength="31.7" lengthAdjust="spacingAndGlyphs">bed 4</text>
<text class="tn" x="423" y="143" font-size="9.9" textLength="9.5" lengthAdjust="spacingAndGlyphs">CP</text>
<text class="tr" x="522.7" y="100.1" font-size="15.4" textLength="19" lengthAdjust="spacingAndGlyphs">ldry</text>
<text class="tn" x="526.7" y="111.5" font-size="9.9" textLength="7.5" lengthAdjust="spacingAndGlyphs">CT</text>
<text class="tr" x="617.5" y="83.3" font-size="15.4" textLength="26.3" lengthAdjust="spacingAndGlyphs">deck</text>
<text class="tn" x="620.8" y="92.7" font-size="9.9" textLength="23" lengthAdjust="spacingAndGlyphs">CONC.</text>
<text class="tr" x="302" y="218.3" font-size="15.4" textLength="18.8" lengthAdjust="spacingAndGlyphs">hall</text>
<text class="tn" x="305.8" y="228.9" font-size="9.9" textLength="8" lengthAdjust="spacingAndGlyphs">CT</text>
<text class="tr" x="385.8" y="256.4" font-size="15.4" textLength="25.5" lengthAdjust="spacingAndGlyphs">linen</text>
<text class="tr" x="542.5" y="199.6" font-size="15.4" textLength="62.5" lengthAdjust="spacingAndGlyphs">grand room</text>
<text class="tn" x="565.8" y="210.2" font-size="9.9" textLength="9.2" lengthAdjust="spacingAndGlyphs">CP</text>
<text class="tr" x="610.8" y="279.5" font-size="15.4" textLength="38.5" lengthAdjust="spacingAndGlyphs">kitchen</text>
<text class="tn" x="622.7" y="289.8" font-size="9.9" textLength="9.6" lengthAdjust="spacingAndGlyphs">CT</text>
<text class="tr" x="207" y="315.3" font-size="15.4" textLength="38" lengthAdjust="spacingAndGlyphs">garage</text>
<text class="tn" x="215" y="327.7" font-size="9.9" textLength="23.8" lengthAdjust="spacingAndGlyphs">CONC.</text>
<text class="tr" x="457.5" y="314.5" font-size="15.4" textLength="36.3" lengthAdjust="spacingAndGlyphs">lounge</text>
<text class="tn" x="468" y="326.4" font-size="9.9" textLength="9.5" lengthAdjust="spacingAndGlyphs">CP</text>
<text class="tr" x="355" y="346.3" font-size="15.4" textLength="23.3" lengthAdjust="spacingAndGlyphs">bath</text>
<text class="tn" x="362" y="356.9" font-size="9.9" textLength="8.8" lengthAdjust="spacingAndGlyphs">CT</text>
<text class="tr" x="349.5" y="465" font-size="15.4" textLength="11.8" lengthAdjust="spacingAndGlyphs">es</text>
<text class="tn" x="351.3" y="475.6" font-size="9.9" textLength="8.7" lengthAdjust="spacingAndGlyphs">CT</text>
<text class="tr" x="410.8" y="462" font-size="15.4" textLength="61.2" lengthAdjust="spacingAndGlyphs">master bed</text>
<text class="tn" x="435" y="473.2" font-size="9.9" textLength="10" lengthAdjust="spacingAndGlyphs">CP</text>
<text class="tr" x="518.5" y="484" font-size="15.4" textLength="27.5" lengthAdjust="spacingAndGlyphs">foyer</text>
<text class="tr" x="608" y="426.8" font-size="15.4" textLength="27" lengthAdjust="spacingAndGlyphs">living</text>
<text class="tn" x="615.8" y="437.6" font-size="9.9" textLength="9.2" lengthAdjust="spacingAndGlyphs">CP</text>
<text class="tn" x="131.3" y="190" font-size="10.6" textLength="59.5" lengthAdjust="spacingAndGlyphs">SELECT SLIDING</text>
<text class="tn" x="131.3" y="200.5" font-size="10.6" textLength="48.7" lengthAdjust="spacingAndGlyphs">ROBE DOORS</text>
<text class="tn" x="133.8" y="231.8" font-size="8.5" textLength="14.2" lengthAdjust="spacingAndGlyphs">robe</text>
<text class="tn" x="207.5" y="232.5" font-size="10.2" textLength="11.3" lengthAdjust="spacingAndGlyphs">820</text>
<text class="tn" x="227.5" y="250" font-size="10.6" textLength="57.5" lengthAdjust="spacingAndGlyphs">70 STUD FRAME</text>
<text class="tn" x="227.5" y="260" font-size="10.6" textLength="38" lengthAdjust="spacingAndGlyphs">INT WALLS</text>
<text class="tn" x="348" y="80.8" font-size="8.5" textLength="14.5" lengthAdjust="spacingAndGlyphs">robe</text>
<text class="tn" x="348.8" y="157.5" font-size="8.5" textLength="14.5" lengthAdjust="spacingAndGlyphs">robe</text>
<text class="tn" x="395.5" y="158.8" font-size="10.6" textLength="59.5" lengthAdjust="spacingAndGlyphs">SELECT SLIDING</text>
<text class="tn" x="395.5" y="167.5" font-size="10.6" textLength="50" lengthAdjust="spacingAndGlyphs">ROBE DOORS</text>
<text class="tn" x="325" y="195.8" font-size="10.2" textLength="13" lengthAdjust="spacingAndGlyphs">820</text>
<text class="tn" x="375.8" y="195.8" font-size="10.2" textLength="12.5" lengthAdjust="spacingAndGlyphs">820</text>
<text class="tl" x="496.3" y="71.3" font-size="10.4" textLength="17" lengthAdjust="spacingAndGlyphs">TUB</text>
<text class="tn" x="510.4" y="96.3" font-size="9.2" textLength="15.5" lengthAdjust="spacingAndGlyphs" transform="rotate(-90 510.4 96.3)">MW</text>
<text class="tl2" x="530.5" y="87.5" font-size="8.5" textLength="6.2" lengthAdjust="spacingAndGlyphs">fw</text>
<text class="tn" x="535.8" y="130.5" font-size="10.2" textLength="12.5" lengthAdjust="spacingAndGlyphs">720</text>
<text class="tn" x="574.3" y="106.3" font-size="10.6" textLength="20.7" lengthAdjust="spacingAndGlyphs">86mm</text>
<text class="tn" x="574.3" y="116.3" font-size="10.6" textLength="19.5" lengthAdjust="spacingAndGlyphs">STEP</text>
<text class="tn" x="609.3" y="122" font-size="11.5" textLength="40.7" lengthAdjust="spacingAndGlyphs">ASW2130</text>
<text class="tn" x="659.3" y="172" font-size="10.6" textLength="22.5" lengthAdjust="spacingAndGlyphs">90 INT.</text>
<text class="tn" x="659.3" y="182.5" font-size="10.6" textLength="27.5" lengthAdjust="spacingAndGlyphs">TIMBER</text>
<text class="tn" x="659.3" y="192.5" font-size="10.6" textLength="35.7" lengthAdjust="spacingAndGlyphs">FRAMING</text>
<text class="tn" x="605" y="215" font-size="10.6" textLength="26.3" lengthAdjust="spacingAndGlyphs">UNDER</text>
<text class="tn" x="605" y="225.5" font-size="10.6" textLength="44.5" lengthAdjust="spacingAndGlyphs">BENCH SINK</text>
<text class="tn" x="639" y="254.4" font-size="9.3" textLength="5.4" lengthAdjust="spacingAndGlyphs">S</text>
<text class="tn" x="655" y="270.6" font-size="9.6" textLength="11.9" lengthAdjust="spacingAndGlyphs">DW</text>
<text class="tg" x="392" y="224.2" font-size="8.4" textLength="10.7" lengthAdjust="spacingAndGlyphs">SM</text>
<text class="tg" x="512.4" y="449.3" font-size="8.4" textLength="11.2" lengthAdjust="spacingAndGlyphs">SM</text>
<text class="tn" x="412.9" y="236.7" font-size="9.9" textLength="23.4" lengthAdjust="spacingAndGlyphs" transform="rotate(-90 412.9 236.7)">SQ. PB</text>
<text class="tn" x="425" y="236.7" font-size="9.9" textLength="37.5" lengthAdjust="spacingAndGlyphs" transform="rotate(-90 425 236.7)">OPENINGS</text>
<text class="tn" x="536.75" y="448.9" font-size="9.9" textLength="23.3" lengthAdjust="spacingAndGlyphs" transform="rotate(-90 536.75 448.9)">SQ. PB</text>
<text class="tn" x="549.1" y="448.9" font-size="9.9" textLength="38.5" lengthAdjust="spacingAndGlyphs" transform="rotate(-90 549.1 448.9)">OPENINGS</text>
<text class="tn" x="309.3" y="249" font-size="10.2" textLength="12.7" lengthAdjust="spacingAndGlyphs">820</text>
<text class="tn" x="337" y="249" font-size="10.2" textLength="12.7" lengthAdjust="spacingAndGlyphs">720</text>
<text class="tn" x="293.3" y="259.3" font-size="10.6" textLength="19.7" lengthAdjust="spacingAndGlyphs">86mm</text>
<text class="tn" x="293.3" y="269.3" font-size="10.6" textLength="18.5" lengthAdjust="spacingAndGlyphs">STEP</text>
<text class="tl2" x="299.3" y="284.2" font-size="7.6" textLength="12.7" lengthAdjust="spacingAndGlyphs">MAN</text>
<text class="tl2" x="299.3" y="294.2" font-size="7.6" textLength="16.3" lengthAdjust="spacingAndGlyphs">HOLE</text>
<text class="tl2" x="389" y="285.6" font-size="8.5" textLength="7.4" lengthAdjust="spacingAndGlyphs">fw</text>
<text class="tl2" x="367" y="327.5" font-size="8.5" textLength="7.3" lengthAdjust="spacingAndGlyphs">fw</text>
<text class="tl2" x="336.6" y="322" font-size="8.5" textLength="5" lengthAdjust="spacingAndGlyphs">V</text>
<text class="tl2" x="338.1" y="499" font-size="8.5" textLength="5" lengthAdjust="spacingAndGlyphs">V</text>
<text class="tg2" x="379.7" y="373.7" font-size="7.6" textLength="14.3" lengthAdjust="spacingAndGlyphs">1750</text>
<text class="tg2" x="378" y="383.8" font-size="8.2" textLength="17.7" lengthAdjust="spacingAndGlyphs">BATH</text>
<text class="tn" x="439.5" y="408.8" font-size="8.5" textLength="14.3" lengthAdjust="spacingAndGlyphs">robe</text>
<text class="tn" x="531.2" y="391" font-size="10.2" textLength="12.5" lengthAdjust="spacingAndGlyphs">820</text>
<text class="tn" x="494" y="434.3" font-size="10.2" textLength="12.3" lengthAdjust="spacingAndGlyphs">820</text>
<text class="tl2" x="341.3" y="426.3" font-size="9" textLength="9.5" lengthAdjust="spacingAndGlyphs">SH</text>
<text class="tl2" x="353.8" y="416.3" font-size="8.5" textLength="7.2" lengthAdjust="spacingAndGlyphs">fw</text>
<text class="tl2" x="353.3" y="502" font-size="8.5" textLength="7.5" lengthAdjust="spacingAndGlyphs">fw</text>
<text class="tn" x="382" y="500" font-size="9.6" textLength="41.8" lengthAdjust="spacingAndGlyphs" transform="rotate(-90 382 500)">2X 720 csd</text>
<text class="tn" x="393.8" y="437.5" font-size="10.6" textLength="59.2" lengthAdjust="spacingAndGlyphs">SELECT SLIDING</text>
<text class="tn" x="393.8" y="447.5" font-size="10.6" textLength="49.2" lengthAdjust="spacingAndGlyphs">ROBE DOORS</text>
<text class="tn" x="520.2" y="513.8" font-size="10.2" textLength="13.3" lengthAdjust="spacingAndGlyphs" transform="rotate(90 520.2 513.8)">820</text>
<text class="tcad" x="571.6" y="436.4" font-size="16" textLength="30.4" lengthAdjust="spacingAndGlyphs" transform="rotate(-90 571.6 436.4)">1350</text>
<text class="tg" x="558.8" y="318.6" font-size="10.1" textLength="16" lengthAdjust="spacingAndGlyphs">REF</text>
<text class="tn" x="588.5" y="319.8" font-size="10" textLength="20" lengthAdjust="spacingAndGlyphs">PTRY</text>
<text class="tn" x="638.3" y="303.8" font-size="10.6" textLength="28" lengthAdjust="spacingAndGlyphs">SELECT</text>
<text class="tn" x="638.3" y="314.3" font-size="10.6" textLength="39.2" lengthAdjust="spacingAndGlyphs">OVEN &amp; EX</text>
<text class="tn" x="638.3" y="323.8" font-size="10.6" textLength="21.7" lengthAdjust="spacingAndGlyphs">HOOD</text>
<text class="tn" x="210" y="405" font-size="10.6" textLength="43.3" lengthAdjust="spacingAndGlyphs">2100x4800</text>
<text class="tn" x="210" y="415" font-size="10.6" textLength="46.8" lengthAdjust="spacingAndGlyphs">PANELLIFT</text>
<text class="tn" x="210" y="424.5" font-size="10.6" textLength="50.5" lengthAdjust="spacingAndGlyphs">WITH 20mm</text>
<text class="tn" x="210" y="434.3" font-size="10.6" textLength="73.3" lengthAdjust="spacingAndGlyphs">WEATHERLIP TO</text>
<text class="tn" x="210" y="443.8" font-size="10.6" textLength="25.5" lengthAdjust="spacingAndGlyphs">CONC</text>
</svg>
</body></html>
